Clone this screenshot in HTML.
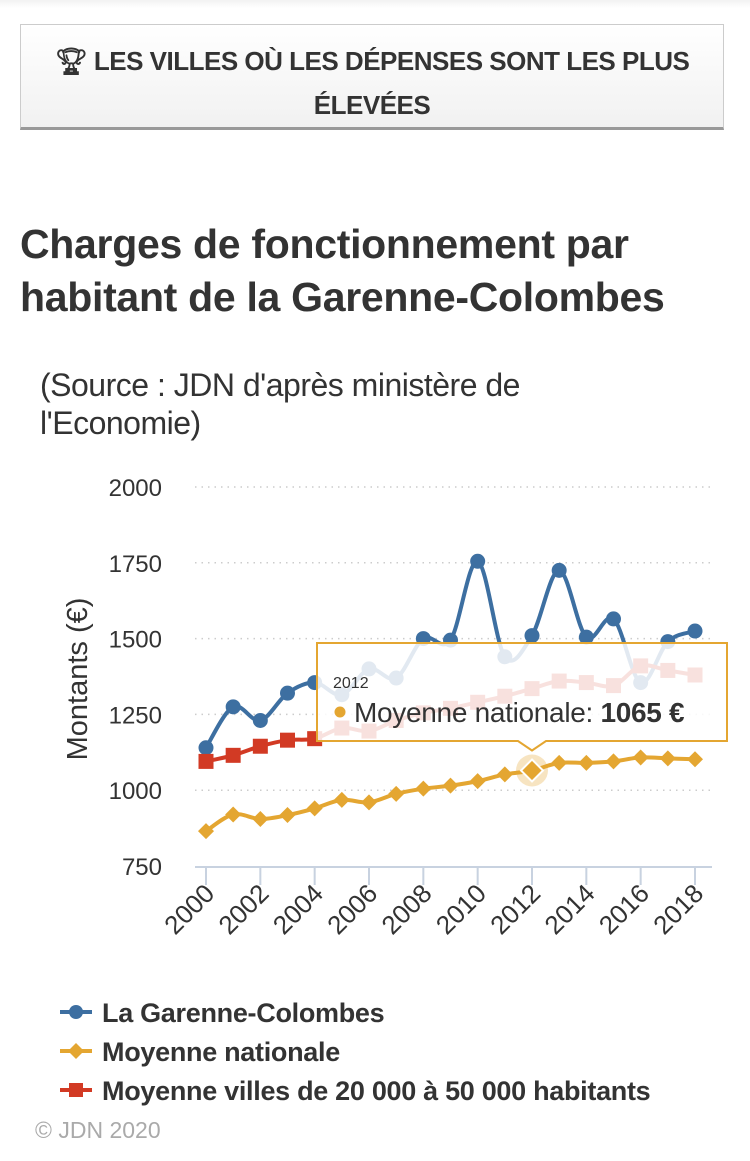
<!DOCTYPE html>
<html><head><meta charset="utf-8">
<style>
body{margin:0;width:750px;height:1161px;background:#fff;font-family:"Liberation Sans",sans-serif;color:#333;position:relative;overflow:hidden}
.topbar{position:absolute;left:0;top:0;width:750px;height:8px;background:linear-gradient(#f2f2f2,#fff)}
.btn{position:absolute;left:20px;top:24px;width:704px;height:106px;border:1px solid #ccc;border-bottom:3px solid #999;box-sizing:border-box;background:linear-gradient(#fff,#f1f1f1);text-align:center;font-weight:bold;font-size:26px;line-height:44px;padding-top:14px;color:#333;letter-spacing:-0.5px}
h1{position:absolute;left:20px;top:218px;margin:0;font-size:41px;line-height:53px;font-weight:bold;color:#333;letter-spacing:-0.3px;white-space:nowrap}
.src{position:absolute;left:40px;top:366px;font-size:32px;line-height:38px;color:#333;letter-spacing:-0.5px;white-space:nowrap}
.copy{position:absolute;left:35px;top:1117px;font-size:23px;color:#aaa}
svg{position:absolute;left:0;top:0}
</style></head><body>
<div class="topbar"></div>
<div class="btn">🏆︎ LES VILLES OÙ LES DÉPENSES SONT LES PLUS<br>ÉLEVÉES</div>
<h1>Charges de fonctionnement par<br>habitant de la Garenne-Colombes</h1>
<div class="src">(Source : JDN d'après ministère de<br>l'Economie)</div>
<div class="copy">© JDN 2020</div>
<svg id="chart" width="750" height="1161"></svg>
<script>
const years=[2000,2001,2002,2003,2004,2005,2006,2007,2008,2009,2010,2011,2012,2013,2014,2015,2016,2017,2018];
const garenne=[1140,1275,1230,1320,1355,1315,1400,1370,1500,1495,1755,1440,1510,1725,1505,1565,1355,1490,1525];
const nationale=[865,920,905,918,940,968,960,988,1005,1015,1030,1052,1065,1090,1090,1095,1108,1105,1102];
const villes=[1095,1115,1145,1165,1170,1205,1195,1230,1255,1270,1290,1310,1335,1360,1355,1345,1410,1395,1380];
const yTicks=[750,1000,1250,1500,1750,2000];
const xTicks=[2000,2002,2004,2006,2008,2010,2012,2014,2016,2018];
const hoverIndex=12;

const NS="http://www.w3.org/2000/svg";
const svg=document.getElementById('chart');
const X=v=>206+(v-2000)*(695-206)/18;
const Y=v=>866-(v-750)*(866-487)/1250;
function mk(t,a,p){const e=document.createElementNS(NS,t);for(const k in a)e.setAttribute(k,a[k]);(p||svg).appendChild(e);return e;}
yTicks.forEach(t=>{
  if(t>750){const g=mk('line',{x1:195,x2:712,y1:Y(t),y2:Y(t),stroke:'#ccc','stroke-width':1.5,'stroke-dasharray':'1.5,5'});
  
  }
  const l=mk('text',{x:162,y:Y(t)+9,'text-anchor':'end','font-size':24,fill:'#333','font-family':'Liberation Sans'});
  l.textContent=t;
  
  
});
const ax=mk('line',{x1:195,x2:712,y1:867,y2:867,stroke:'#c8d2e0','stroke-width':2});


xTicks.forEach(t=>{
  mk('line',{x1:X(t),x2:X(t),y1:867,y2:885,stroke:'#c8d2e0','stroke-width':2});
  const l=mk('text',{x:0,y:0,'text-anchor':'end','font-size':26,fill:'#333','font-family':'Liberation Sans',transform:`translate(${X(t)+10},${895}) rotate(-45)`});
  l.textContent=t;
  
  
});
const yt=mk('text',{x:0,y:0,'text-anchor':'middle','font-size':29,fill:'#333','font-family':'Liberation Sans',transform:'translate(87,679) rotate(-90)'});
yt.textContent='Montants (€)';



function spline(vals){
  const p=vals.map((v,i)=>[X(years[i]),Y(v)]);
  let d=`M${p[0][0]},${p[0][1]}`;
  for(let i=0;i<p.length-1;i++){
    const p0=p[i-1]||p[i],p1=p[i],p2=p[i+1],p3=p[i+2]||p2;
    const c1=[p1[0]+(p2[0]-p0[0])/6,p1[1]+(p2[1]-p0[1])/6];
    const c2=[p2[0]-(p3[0]-p1[0])/6,p2[1]-(p3[1]-p1[1])/6];
    d+=` C${c1[0]},${c1[1]} ${c2[0]},${c2[1]} ${p2[0]},${p2[1]}`;
  }
  return d;
}
function series(vals,color,shape,op,name){
  const g=mk('g',{opacity:op});
  
  
  mk('path',{d:spline(vals),fill:'none',stroke:color,'stroke-width':4},g);
  vals.forEach((v,i)=>{
    const x=X(years[i]),y=Y(v);let m;
    if(shape==='circle')m=mk('circle',{cx:x,cy:y,r:7.5,fill:color},g);
    else if(shape==='square')m=mk('rect',{x:x-7.5,y:y-7.5,width:15,height:15,fill:color},g);
    else m=mk('path',{d:`M${x},${y-8}L${x+8},${y}L${x},${y+8}L${x-8},${y}Z`,fill:color},g);
    
    
  });
}
series(garenne,'#3d6fa1','circle',1,'series-garenne');
series(villes,'#d23a24','square',1,'series-villes');
series(nationale,'#e4a631','diamond',1,'series-nationale');
const hx=X(years[hoverIndex]),hy=Y(nationale[hoverIndex]);
mk('circle',{cx:hx,cy:hy,r:16,fill:'#e4a631',opacity:0.3});
mk('path',{d:`M${hx},${hy-11}L${hx+11},${hy}L${hx},${hy+11}L${hx-11},${hy}Z`,fill:'#e4a631',stroke:'#fff','stroke-width':2});
const tg=mk('g',{});


mk('path',{d:`M317,643H727V741H${hx+14}L${hx},${hy-20}L${hx-14},741H317Z`,fill:'#fff','fill-opacity':0.85,stroke:'#e4a631','stroke-width':2},tg);
const t1=mk('text',{x:333,y:688,'font-size':16,fill:'#333','font-family':'Liberation Sans'},tg);
t1.textContent=years[hoverIndex];
mk('circle',{cx:340,cy:712,r:5.5,fill:'#e4a631'},tg);
const t2=mk('text',{x:354,y:722,'font-size':28,fill:'#333','font-family':'Liberation Sans','letter-spacing':'-0.3'},tg);
t2.textContent='Moyenne nationale: ';
const b=document.createElementNS(NS,'tspan');b.setAttribute('font-weight','bold');b.textContent=nationale[hoverIndex]+' €';t2.appendChild(b);
const legs=[['La Garenne-Colombes','#3d6fa1','circle'],['Moyenne nationale','#e4a631','diamond'],['Moyenne villes de 20 000 à 50 000 habitants','#d23a24','square']];
legs.forEach((l,i)=>{
  const y=1012+i*39;
  const g=mk('g',{});
  
  
  mk('line',{x1:60,x2:92,y1:y,y2:y,stroke:l[1],'stroke-width':4},g);
  if(l[2]==='circle')mk('circle',{cx:76,cy:y,r:7,fill:l[1]},g);
  else if(l[2]==='square')mk('rect',{x:69,y:y-7,width:14,height:14,fill:l[1]},g);
  else mk('path',{d:`M76,${y-8}L84,${y}L76,${y+8}L68,${y}Z`,fill:l[1]},g);
  const t=mk('text',{x:102,y:y+10,'font-size':27,'font-weight':'bold',fill:'#333','font-family':'Liberation Sans','letter-spacing':'-0.3'},g);
  t.textContent=l[0];
});
</script>
</body></html>
